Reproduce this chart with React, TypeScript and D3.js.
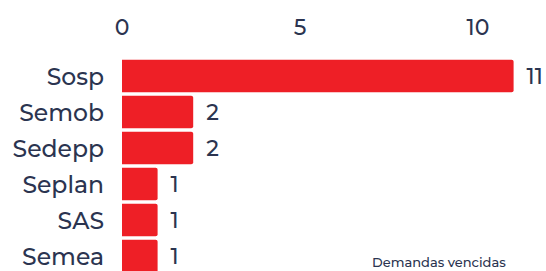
import React, { useEffect, useRef } from 'react';
import * as d3 from 'd3';

const categories = ['Sosp', 'Semob', 'Sedepp', 'Seplan', 'SAS', 'Semea'];
const values = [11, 2, 2, 1, 1, 1];
const tickValues = [0, 5, 10];
const legendLabel = 'Demandas vencidas';

const W = 546;
const H = 271;
const FONT = 'Montserrat, "Open Sans", sans-serif';
const TEXT = '#2b3450';
const BAR = '#ee1f26';

export default function App() {
  const svgRef = useRef<SVGSVGElement>(null);

  useEffect(() => {
    if (!svgRef.current) return;
    const svg = d3.select(svgRef.current);
    svg.selectAll('*').remove();

    const x = d3.scaleLinear().domain([0, 10]).range([122, 478]);
    const y = d3.scaleBand<string>()
      .domain(categories)
      .range([58, 58 + 36 * categories.length])
      .paddingInner(0.1)
      .paddingOuter(0.05);

    // top axis labels
    svg.append('g')
      .selectAll('text')
      .data(tickValues)
      .join('text')
      .attr('x', d => x(d))
      .attr('y', 27)
      .attr('text-anchor', 'middle')
      .attr('dominant-baseline', 'central')
      .attr('font-size', 22)
      .attr('font-weight', 500)
      .attr('fill', TEXT)
      .text(d => d);

    const data = categories.map((c, i) => ({ c, v: values[i] }));
    const r = 2;

    // bars, square on the left, rounded on the right
    svg.append('g')
      .selectAll('path')
      .data(data)
      .join('path')
      .attr('fill', BAR)
      .attr('d', d => {
        const x0 = x(0), x1 = x(d.v);
        const y0 = y(d.c)!, y1 = y0 + y.bandwidth();
        return `M${x0},${y0}H${x1 - r}Q${x1},${y0} ${x1},${y0 + r}V${y1 - r}Q${x1},${y1} ${x1 - r},${y1}H${x0}Z`;
      });

    // category labels
    svg.append('g')
      .selectAll('text')
      .data(data)
      .join('text')
      .attr('x', 104)
      .attr('y', d => y(d.c)! + y.bandwidth() / 2)
      .attr('text-anchor', 'end')
      .attr('dominant-baseline', 'central')
      .attr('font-size', 23.5)
      .attr('font-weight', 500)
      .attr('fill', TEXT)
      .text(d => d.c);

    // value labels
    svg.append('g')
      .selectAll('text')
      .data(data)
      .join('text')
      .attr('x', d => x(d.v) + 13)
      .attr('y', d => y(d.c)! + y.bandwidth() / 2)
      .attr('dominant-baseline', 'central')
      .attr('font-size', 22)
      .attr('font-weight', 500)
      .attr('fill', TEXT)
      .text(d => d.v);

    svg.append('text')
      .attr('x', 372)
      .attr('y', 262)
      .attr('dominant-baseline', 'central')
      .attr('font-size', 13)
      .attr('font-weight', 500)
      .attr('fill', TEXT)
      .text(legendLabel);
  }, []);

  return (
    <svg
      ref={svgRef}
      width={W}
      height={H}
      style={{ position: 'absolute', top: 0, left: 0, fontFamily: FONT, background: '#fff' }}
    />
  );
}
